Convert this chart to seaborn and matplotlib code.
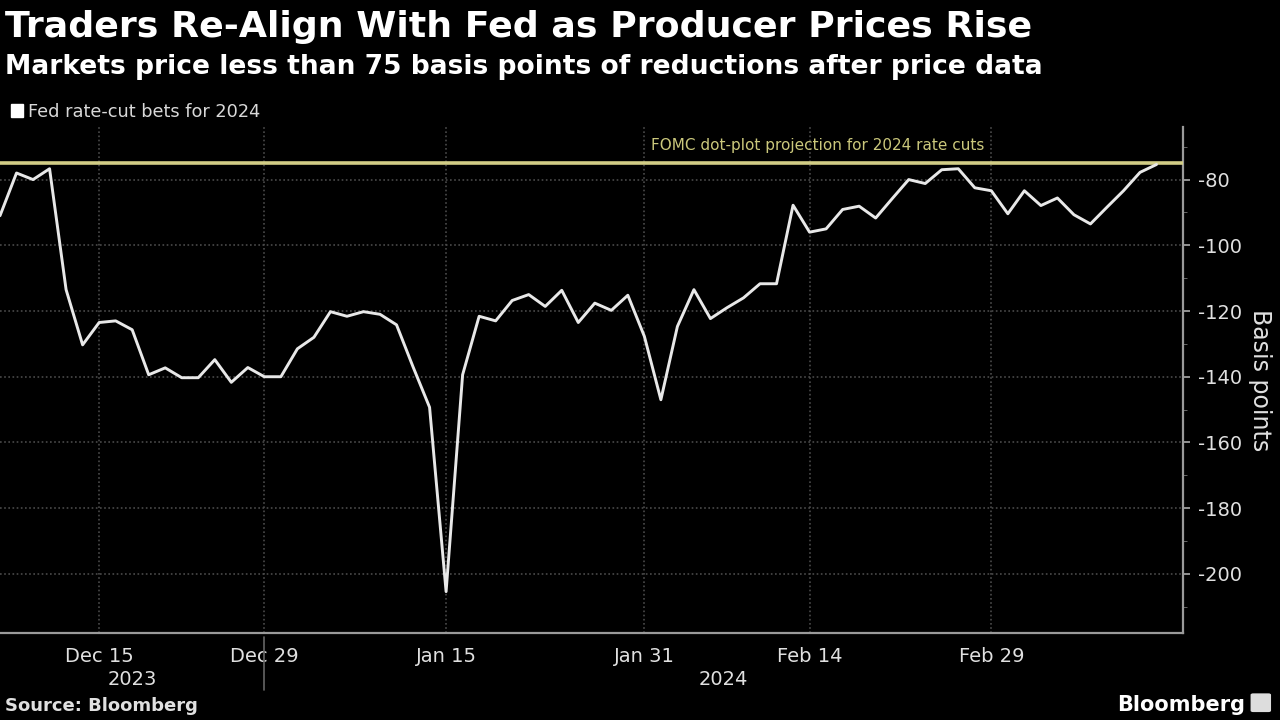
import numpy as np
import pandas as pd
import matplotlib
matplotlib.use("Agg")
import matplotlib.pyplot as plt
import matplotlib.transforms as mtransforms
from matplotlib.patches import Patch, FancyBboxPatch
import seaborn as sns

# data: Fed rate-cut bets for 2024, basis points, one value per weekday
start_date = "2023-12-07"
end_date = "2024-03-14"
cut_bets = [
    -91.0, -78.0, -80.0, -76.7, -113.5, -130.3, -123.5, -123.0, -125.7, -139.4,
    -137.3, -140.3, -140.3, -134.8, -141.7, -137.2, -140.0, -140.0, -131.5, -128.0,
    -120.2, -121.6, -120.2, -121.0, -124.2, -137.0, -149.3, -205.4, -139.4, -121.6,
    -123.0, -116.8, -115.0, -118.6, -113.7, -123.5, -117.6, -119.8, -115.2, -127.7,
    -147.0, -124.7, -113.5, -122.3, -119.0, -116.0, -111.7, -111.7, -87.8, -96.0,
    -95.0, -89.1, -88.1, -91.7, -85.8, -80.0, -81.2, -77.0, -76.7, -82.5,
    -83.4, -90.4, -83.4, -87.9, -85.6, -90.7, -93.5, -88.4, -83.4, -77.8,
    -75.4,
]
fomc_projection = -75
labeled_dates = ["2023-12-15", "2023-12-29", "2024-01-15", "2024-01-31", "2024-02-14", "2024-02-29"]
minor_dates = ["2023-12-22", "2024-01-08", "2024-01-23", "2024-02-07", "2024-02-21"]
y_ticks = [-80, -100, -120, -140, -160, -180, -200]

dates = pd.bdate_range(start_date, end_date)
df = pd.DataFrame({"date": dates, "bp": cut_bets})
df["pos"] = np.arange(len(df))
pos_of = {d: p for d, p in zip(df["date"], df["pos"])}

sns.set_style("dark")
plt.rcParams["font.family"] = ["DejaVu Sans"]

fig = plt.figure(figsize=(12.8, 7.2), dpi=100, facecolor="black")
ax = fig.add_axes([0.0, 0.1208, 0.9242, 0.7028])
ax.set_facecolor("black")

grid_c = "#4a4a4a"
ax.axhline(fomc_projection, color="#d2cd86", lw=2.6, zorder=3)
sns.lineplot(data=df, x="pos", y="bp", ax=ax, color="#e8e8e8", lw=2.1, zorder=4)

ax.set_xlim(0, 71.6)
ax.set_ylim(-218, -64)

# y axis on the right
ax.yaxis.tick_right()
ax.yaxis.set_label_position("right")
ax.set_yticks(y_ticks)
ax.set_yticklabels([str(v) for v in y_ticks])
ax.set_yticks(np.arange(-210, -60, 10), minor=True)
ax.tick_params(axis="y", which="major", colors="#aaaaaa", labelcolor="#e0e0e0",
               labelsize=14, length=5, width=1.2, pad=6, direction="out")
ax.tick_params(axis="y", which="minor", colors="#777777", length=3, direction="out")
ax.set_ylabel("Basis points", color="#e0e0e0", fontsize=17, rotation=-90, labelpad=0)
ax.yaxis.set_label_coords(1.075, 0.5)

# x axis
major_pos = [pos_of[pd.Timestamp(d)] for d in labeled_dates]
ax.set_xticks(major_pos)
ax.set_xticklabels([pd.Timestamp(d).strftime("%b %-d") for d in labeled_dates])
ax.set_xticks([pos_of[pd.Timestamp(d)] for d in minor_dates] + [71], minor=True)
ax.tick_params(axis="x", which="major", colors="#aaaaaa", labelcolor="#e0e0e0",
               labelsize=14, length=4, pad=6, direction="out")
ax.tick_params(axis="x", which="minor", colors="#888888", length=4, direction="out")
ax.set_xlabel("")

ax.grid(True, which="major", axis="both", color=grid_c, ls=(0, (1, 1.5)), lw=1.2)
for side in ["top", "left"]:
    ax.spines[side].set_visible(False)
for side in ["bottom", "right"]:
    ax.spines[side].set_visible(True)
    ax.spines[side].set_color("#9a9a9a")
    ax.spines[side].set_linewidth(1.6)

# FOMC label
ax.text(49.5, -70.9, "FOMC dot-plot projection for 2024 rate cuts",
        color="#cbc87c", fontsize=11, ha="center", va="baseline", zorder=5)

# year labels and separator below the axis
trans = mtransforms.blended_transform_factory(ax.transData, fig.transFigure)
fig.text(0.103, 0.0486, "2023", color="#e0e0e0", fontsize=14, ha="center", va="baseline")
fig.text(0.565, 0.0486, "2024", color="#e0e0e0", fontsize=14, ha="center", va="baseline")
ax.plot([pos_of[pd.Timestamp("2023-12-29")]] * 2, [0.115, 0.042], transform=trans,
        color="#666666", lw=1.2, clip_on=False)

# titles
fig.text(0.004, 0.9486, "Traders Re-Align With Fed as Producer Prices Rise",
         color="white", fontsize=26.2, fontweight="bold", va="baseline")
fig.text(0.004, 0.8972, "Markets price less than 75 basis points of reductions after price data",
         color="white", fontsize=19.1, fontweight="bold", va="baseline")

# legend
leg = fig.legend(handles=[Patch(facecolor="white", edgecolor="white", label="Fed rate-cut bets for 2024")],
                 loc="upper left", bbox_to_anchor=(0.0, 0.872), frameon=False,
                 fontsize=12.8, handlelength=0.7, handleheight=0.7, handletextpad=0.3,
                 borderaxespad=0.2)
for t in leg.get_texts():
    t.set_color("#d8d8d8")

# footer
fig.text(0.004, 0.0125, "Source: Bloomberg", color="#e0e0e0", fontsize=13,
         fontweight="bold", va="baseline")
fig.text(0.9725, 0.0125, "Bloomberg", color="white", fontsize=15,
         fontweight="bold", va="baseline", ha="right")
fig.patches.append(FancyBboxPatch((0.979, 0.013), 0.012, 0.022, boxstyle="round,pad=0.002",
                                  transform=fig.transFigure, facecolor="#dddddd",
                                  edgecolor="none"))

fig.savefig("out.png", dpi=100, facecolor="black")
